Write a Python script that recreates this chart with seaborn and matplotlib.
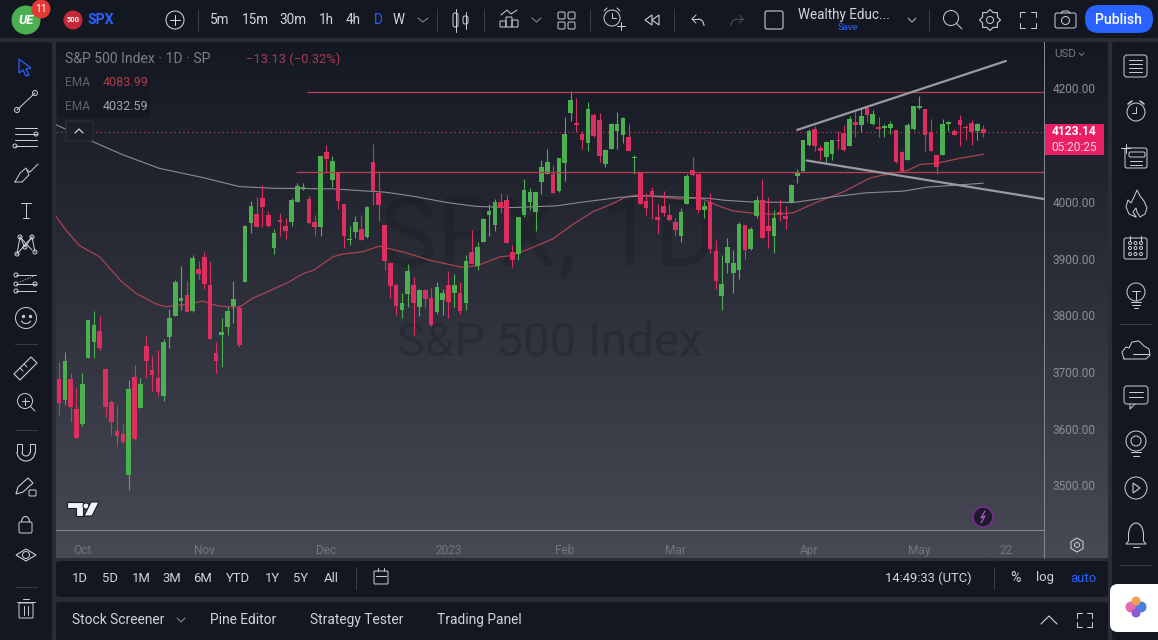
# S&P 500 daily candles, drawn as a charting app screenshot
import numpy as np
import pandas as pd
import seaborn as sns
import matplotlib.pyplot as plt
from matplotlib.patches import Circle, FancyBboxPatch, Polygon, Rectangle, Arc
from matplotlib.lines import Line2D

opens = [3688, 3651, 3688, 3634, 3608, 3725, 3752, 3772, 3706, 3647,
         3596, 3590, 3518, 3691, 3637, 3746, 3703, 3689, 3657, 3761,
         3799, 3825, 3836, 3808, 3882, 3903, 3853, 3734, 3765, 3779,
         3816, 3812, 3859, 3962, 3979, 4007, 3977, 3919, 3966, 3957,
         3965, 4000, 4022, 4005, 3965, 3956, 4088, 4039, 4052, 3996,
         3932, 3947, 3953, 3938, 4070, 4016, 3959, 3892, 3853, 3809,
         3838, 3853, 3815, 3845, 3830, 3805, 3827, 3853, 3839, 3839,
         3822, 3912, 3887, 3930, 3977, 3959, 4000, 4003, 3911, 3908,
         3977, 4000, 3982, 4035, 4050, 4050, 4019, 4069, 4156, 4137,
         4120, 4104, 4153, 4144, 4067, 4094, 4125, 4118, 4114, 4077,
         4052, 4002, 4019, 3973, 3993, 3977, 3964, 3939, 3996, 4056,
         4049, 3986, 4000, 3913, 3834, 3892, 3875, 3879, 3959, 3917,
         3975, 4003, 3958, 3939, 3983, 3975, 3999, 4046, 4054, 4100,
         4128, 4095, 4079, 4084, 4110, 4121, 4099, 4141, 4136, 4166,
         4137, 4130, 4131, 4131, 4127, 4088, 4074, 4128, 4166, 4163,
         4123, 4082, 4083, 4138, 4125, 4144, 4132, 4139, 4125, 4128]
closes = [3646, 3719, 3639, 3584, 3679, 3792, 3783, 3742, 3639, 3612,
          3587, 3577, 3670, 3582, 3679, 3719, 3694, 3665, 3753, 3796,
          3859, 3830, 3806, 3901, 3872, 3855, 3759, 3719, 3770, 3808,
          3829, 3747, 3958, 3993, 3956, 3991, 3957, 3946, 3965, 3949,
          4003, 4028, 4026, 3963, 3956, 4081, 4076, 4072, 4001, 3940,
          3935, 3965, 3933, 3991, 4019, 3995, 3895, 3852, 3816, 3821,
          3878, 3822, 3845, 3829, 3782, 3850, 3839, 3824, 3853, 3808,
          3896, 3890, 3921, 3970, 3984, 4000, 3989, 3928, 3898, 3973,
          4021, 4017, 4017, 4061, 4070, 4015, 4077, 4120, 4180, 4136,
          4109, 4164, 4117, 4081, 4092, 4137, 4137, 4148, 4090, 4079,
          3996, 3990, 4011, 3968, 3980, 3968, 3950, 3982, 4046, 4047,
          3986, 3993, 3917, 3861, 3856, 3920, 3892, 3961, 3915, 3952,
          4003, 3937, 3948, 3972, 3976, 3970, 4029, 4052, 4109, 4125,
          4099, 4090, 4106, 4109, 4107, 4092, 4146, 4136, 4151, 4154,
          4155, 4129, 4134, 4138, 4070, 4055, 4136, 4169, 4169, 4118,
          4090, 4061, 4137, 4140, 4118, 4136, 4130, 4124, 4137, 4122]
highs = [3718, 3736, 3698, 3671, 3698, 3792, 3808, 3799, 3706, 3651,
         3642, 3608, 3685, 3712, 3689, 3763, 3728, 3738, 3758, 3811,
         3863, 3887, 3861, 3906, 3895, 3912, 3896, 3752, 3796, 3814,
         3860, 3818, 3959, 4002, 4009, 4030, 3984, 3952, 3980, 3971,
         4006, 4034, 4034, 4011, 3977, 4081, 4100, 4081, 4052, 3997,
         3957, 3975, 3977, 3992, 4102, 4054, 3959, 3893, 3856, 3839,
         3890, 3868, 3846, 3846, 3848, 3859, 3846, 3878, 3872, 3859,
         3906, 3950, 3930, 3971, 3997, 4005, 4016, 4013, 3924, 3974,
         4040, 4024, 4018, 4074, 4094, 4065, 4077, 4150, 4196, 4183,
         4125, 4176, 4156, 4156, 4094, 4139, 4159, 4149, 4137, 4082,
         4052, 4015, 4027, 3997, 4019, 3997, 3971, 3990, 4050, 4080,
         4050, 4002, 4016, 3933, 3906, 3937, 3915, 3964, 3959, 3955,
         4010, 4040, 4009, 3986, 4005, 3992, 4031, 4058, 4110, 4128,
         4134, 4101, 4108, 4110, 4125, 4136, 4151, 4162, 4165, 4169,
         4162, 4150, 4137, 4143, 4127, 4089, 4139, 4170, 4187, 4164,
         4147, 4083, 4147, 4143, 4128, 4154, 4136, 4144, 4140, 4136]
lows = [3624, 3642, 3611, 3583, 3604, 3724, 3724, 3738, 3621, 3589,
        3570, 3575, 3492, 3580, 3636, 3689, 3666, 3658, 3648, 3743,
        3798, 3809, 3805, 3806, 3864, 3846, 3758, 3698, 3709, 3765,
        3786, 3744, 3859, 3946, 3955, 3955, 3955, 3908, 3939, 3934,
        3957, 4000, 4021, 3961, 3939, 3940, 4053, 4026, 3987, 3919,
        3924, 3937, 3933, 3937, 3995, 3967, 3880, 3830, 3800, 3796,
        3815, 3765, 3798, 3813, 3781, 3803, 3800, 3796, 3815, 3803,
        3809, 3890, 3879, 3929, 3939, 3949, 3980, 3927, 3885, 3898,
        3973, 3986, 3949, 4014, 4050, 4015, 4018, 4036, 4143, 4124,
        4093, 4089, 4115, 4071, 4062, 4093, 4094, 4104, 4090, 4050,
        3996, 3977, 3969, 3943, 3975, 3967, 3940, 3930, 3996, 4046,
        3981, 3971, 3910, 3846, 3809, 3875, 3839, 3864, 3900, 3916,
        3971, 3936, 3919, 3909, 3967, 3952, 3998, 4034, 4053, 4099,
        4089, 4074, 4071, 4074, 4093, 4089, 4099, 4114, 4123, 4141,
        4136, 4114, 4114, 4119, 4069, 4052, 4074, 4127, 4163, 4090,
        4090, 4049, 4082, 4125, 4118, 4099, 4109, 4100, 4110, 4114]

ema_fast_bars = [-0.5, 1.2, 3.5, 7, 10.7, 13.2, 16.7, 18.4, 22.4, 24.7, 27.6, 31, 33.3, 36.2, 39.6,
                 41.9, 43.9, 47.1, 48.8, 52.2, 55.1, 59.8, 63.8, 69.2, 71.8, 75.8, 77.6, 80.4, 85,
                 88.5, 91.9, 94.8, 97.6, 99.4, 103.9, 106.8, 110.3, 113.7, 116, 119.5, 123.5, 126.4,
                 129.8, 135, 139.5, 143, 145.9, 148.1, 151, 155, 159]
ema_fast = [3974, 3950, 3923, 3903, 3860, 3839, 3820, 3815, 3820, 3825, 3816, 3814, 3830, 3843, 3859,
            3873, 3880, 3903, 3908, 3912, 3922, 3910, 3897, 3885, 3887, 3903, 3905, 3915, 3935,
            3961, 3983, 3995, 4009, 4012, 4008, 4005, 4007, 3992, 3984, 3980, 3978, 3981,
            3997, 4018, 4042, 4050, 4055, 4066, 4068, 4077, 4084]
ema_slow_bars = [-0.5, 5.2, 11, 17.3, 24.7, 31, 36.8, 47.1, 56.2, 60.9, 66.7, 71.8, 78.1, 85.6, 89.6,
                 96.5, 101.1, 112, 114.3, 118.9, 126.4, 133.2, 138.9, 145.3, 149.3, 155, 159]
ema_slow = [4136, 4109, 4083, 4059, 4043, 4027, 4024, 4023, 4017, 4010, 3999, 3992, 3990, 3993, 3999,
            4008, 4011, 4006, 4003, 4000, 3999, 4009, 4016, 4019, 4026, 4030, 4033]

price_ticks = [3500, 3600, 3700, 3800, 3900, 4000, 4100, 4200]
month_bars = [4, 25, 46, 67, 87, 106, 129, 148, 163]
month_labels = ['Oct', 'Nov', 'Dec', '2023', 'Feb', 'Mar', 'Apr', 'May', '22']
level_prices = [4194, 4052]
level_starts = [42.7, 40.8]
last_price = 4123.14

W, H = 1158, 640
UP, DOWN = '#4caf50', '#dd2f5f'
ICON = '#c9ccd3'
TEXT = '#d1d4dc'

sns.set_theme(style='dark')
plt.rcParams['font.family'] = ['Roboto', 'DejaVu Sans']
fig = plt.figure(figsize=(W / 100, H / 100), dpi=100, facecolor='#2a2d36')


def px_axes(zorder):
    a = fig.add_axes([0, 0, 1, 1], zorder=zorder)
    a.set_xlim(0, W)
    a.set_ylim(H, 0)
    a.axis('off')
    a.patch.set_alpha(0)
    return a


back = px_axes(0)
ui = px_axes(5)


def panel(a, x0, y0, x1, y1, color='#131722', z=1):
    a.add_patch(FancyBboxPatch((x0 + 3, y0 + 3), x1 - x0 - 6, y1 - y0 - 6, boxstyle='round,pad=3',
                               fc=color, ec='none', zorder=z))


def txt(x, y, s, color=TEXT, size=13, ha='left', weight='normal', a=None, **kw):
    (a or ui).text(x, y, s, color=color, fontsize=size * 0.72, ha=ha, va='center', weight=weight, **kw)


def line(xs, ys, color=ICON, lw=1.0, a=None, **kw):
    (a or ui).add_line(Line2D(xs, ys, color=color, lw=lw * 0.72, solid_capstyle='round', **kw))


def ring(x, y, r, color=ICON, lw=1.0, fc='none'):
    ui.add_patch(Circle((x, y), r, fc=fc, ec=color, lw=lw * 0.72))


def box(x, y, w, h, color=ICON, lw=1.0, round_=2):
    ui.add_patch(FancyBboxPatch((x + round_, y + round_), w - 2 * round_, h - 2 * round_,
                                boxstyle=f'round,pad={round_}', fc='none', ec=color, lw=lw * 0.72))


# panels and gradient chart background
panel(back, -10, -10, W + 10, 38)
panel(back, -10, 42, 52, 640)
panel(back, 1112, 42, W + 10, 640)
panel(back, 56, 561, 1108, 597)
panel(back, 56, 602, 1108, 650)
grad = np.linspace(0, 1, 256).reshape(-1, 1)
cmap = plt.matplotlib.colors.LinearSegmentedColormap.from_list('bg', ['#141823', '#474954'])
back.imshow(grad, cmap=cmap, extent=(56, 1108, 558, 42), aspect='auto', zorder=1)
back.set_xlim(0, W)
back.set_ylim(H, 0)

# watermark
txt(549, 240, 'SPX, 1D', color='#000000', size=96, ha='center', a=back, alpha=0.13, zorder=2)
txt(550, 343, 'S&P 500 Index', color='#000000', size=47.5, ha='center', a=back, alpha=0.16, zorder=2)

# price chart, one bar per trading day
df = pd.DataFrame({'open': opens, 'high': highs, 'low': lows, 'close': closes})
df['bar'] = np.arange(len(df))
df['color'] = np.where(df['close'] >= df['open'], UP, DOWN)

ax = fig.add_axes([56 / W, 1 - 530 / H, 988 / W, 488 / H], zorder=2)
ax.patch.set_alpha(0)
ax.set_xlim(-0.52, 169.45)
ax.set_ylim(3421.3, 4282)

sns.lineplot(x=ema_fast_bars, y=ema_fast, ax=ax, color='#a8444f', lw=0.9, estimator=None, sort=False, zorder=2)
sns.lineplot(x=ema_slow_bars, y=ema_slow, ax=ax, color='#8a8c93', lw=0.8, estimator=None, sort=False, zorder=2)
ax.vlines(df['bar'], df['low'], df['high'], colors=df['color'], lw=0.8, zorder=3)
body_low = df[['open', 'close']].min(axis=1)
body_height = (df['close'] - df['open']).abs().clip(lower=2.5)
ax.bar(df['bar'], body_height, bottom=body_low, width=0.8, color=df['color'], lw=0, zorder=4)

ax.hlines(level_prices, level_starts, 169.45, colors='#b8404f', lw=0.9, zorder=5)
ax.plot([127, 162.9], [4127, 4248.5], color='#9a9aa2', lw=1.6, zorder=5)
ax.plot([128.6, 169.5], [4073, 4005], color='#9a9aa2', lw=1.6, zorder=5)
ax.plot([-0.52, 169.45], [last_price] * 2, color='#c03a60', lw=0.9, ls=(0, (1, 2.5)), zorder=1)

ax.yaxis.tick_right()
ax.set_yticks(price_ticks, [f'{p:.2f}' for p in price_ticks])
ax.set_xticks(month_bars, month_labels)
ax.tick_params(axis='y', length=0, pad=6, labelsize=8.6, labelcolor='#8b8e98')
ax.tick_params(axis='x', length=0, pad=10, labelsize=8.6, labelcolor='#72747e')
ax.set_xlabel('')
ax.set_ylabel('')
ax.grid(False)
for name, spine in ax.spines.items():
    spine.set_visible(name in ('right', 'bottom'))
    spine.set_color('#8a8c94')
    spine.set_linewidth(0.7)
line([1044, 1044], [530, 558], color='#8a8c94', lw=0.9)

# chart legend and labels
ui.add_patch(Rectangle((58, 70), 92, 48, fc='#151923', ec='none', alpha=0.85))
txt(65, 59, 'S&P 500 Index · 1D · SP', color='#7b7e89', size=14)
txt(246, 59, '−13.13 (−0.32%)', color='#a83a52', size=13)
txt(65, 83, 'EMA', color='#5f626c', size=12)
txt(103, 83, '4083.99', color='#b23b4c', size=12.5)
txt(65, 106, 'EMA', color='#5f626c', size=12)
txt(103, 106, '4032.59', color='#a2a4ab', size=12.5)
ui.add_patch(FancyBboxPatch((67, 122), 25, 18, boxstyle='round,pad=1', fc='#1b1f2a', ec='#2f333e', lw=0.7))
line([75, 79, 83], [133, 129, 133], color='#d5d7dc', lw=1.2)
txt(1054, 54, 'USD', color='#777a85', size=11.5)
line([1079, 1081.5, 1084], [53, 55.5, 53], color='#777a85')
ui.add_patch(Rectangle((1045, 124), 59, 31, fc='#e91e63', ec='none'))
txt(1074, 131.5, '4123.14', color='#ffffff', size=12, ha='center', weight='bold')
txt(1074, 147.5, '05:20:25', color='#f7d5e0', size=12, ha='center')

# tradingview mark
ui.add_patch(Polygon([(67, 502), (83, 502), (83, 516), (76, 516), (76, 508), (67, 508)],
                     fc='#f0f3fa', ec='#1a1d26', lw=0.8))
ring(86, 506, 3, color='#1a1d26', fc='#f0f3fa')
ui.add_patch(Polygon([(91, 502), (99, 502), (92, 516), (84, 516)], fc='#f0f3fa', ec='#1a1d26', lw=0.8))
ring(983, 517, 10, color='#7b2d94', lw=1.6, fc='#1f1a2c')
line([985, 981, 985, 981], [511, 518, 516, 523], color='#b05ad0', lw=1.2)
ui.add_patch(Polygon([(1077, 538), (1083, 541.5), (1083, 548.5), (1077, 552), (1071, 548.5), (1071, 541.5)],
                     fc='none', ec='#c5c7cd', lw=0.8))
ring(1077, 545, 2.5, color='#c5c7cd')

# top bar
ring(26, 20, 14, color='#4caf50', fc='#4caf50')
txt(26, 21, 'UE', color='#ffffff', size=13, ha='center', weight='bold', style='italic')
ring(41, 9, 9, color='#e53935', fc='#e53935')
txt(41, 9, '11', color='#ffffff', size=10.5, ha='center')
ring(73, 20, 9, color='#c62838', fc='#c62838')
txt(73, 20.5, '500', color='#ffffff', size=7.5, ha='center', weight='bold')
txt(87, 19.5, 'SPX', color='#2962ff', size=14, weight='bold')
ring(175, 20, 9, color='#d8dade')
line([170, 180], [20, 20], color='#d8dade')
line([175, 175], [15, 25], color='#d8dade')
for x, s in zip([220, 255, 293, 326, 353, 378, 399], ['5m', '15m', '30m', '1h', '4h', 'D', 'W']):
    txt(x, 20, s, color='#2962ff' if s == 'D' else TEXT, size=13.5, ha='center')
for x in [198, 437, 484, 590, 674, 929]:
    line([x, x], [9, 31], color='#3a3e49')
line([418, 423, 428], [18, 22, 18], color='#8d9099')
# candles icon
box(453, 13, 5, 14)
line([455.5, 455.5], [9, 32])
box(463, 16, 5, 8)
line([465.5, 465.5], [12, 29])
# indicators icon
for bx, bh in [(500, 6), (506, 10), (512, 7)]:
    box(bx, 27 - bh, 6, bh, round_=0.5)
line([501, 507, 511, 517], [15, 10, 14, 10])
line([532, 536.5, 541], [18, 22, 18], color='#8d9099')
for bx, by in [(558, 12), (568, 12), (558, 22), (568, 22)]:
    box(bx, by, 7, 7, round_=1.5)
ring(612, 18, 8)
line([612, 612, 616], [13, 18, 18])
line([604, 607], [11, 8])
line([617, 620], [8, 11])
line([617, 625], [26, 26])
line([621, 621], [22, 30])
ui.add_patch(Polygon([(652, 15), (645, 20), (652, 25)], fc='none', ec=ICON, lw=0.8))
ui.add_patch(Polygon([(659, 15), (652, 20), (659, 25)], fc='none', ec=ICON, lw=0.8))
# undo, redo
line([696, 692, 696], [15, 19, 23])
line([692, 698], [19, 19])
ui.add_patch(Arc((698, 26), 12, 14, theta1=270, theta2=360, ec=ICON, lw=0.8))
line([739, 743, 739], [15, 19, 23], color='#4a4d57')
line([743, 737], [19, 19], color='#4a4d57')
ui.add_patch(Arc((737, 26), 12, 14, theta1=180, theta2=270, ec='#4a4d57', lw=0.8))
box(765, 11, 18, 18, lw=1.1, round_=2)
txt(798, 15, 'Wealthy Educ...', color=TEXT, size=13.5)
txt(848, 27, 'Save', color='#2962ff', size=9.5, ha='center')
line([908, 912, 916], [18, 22, 18], color='#b8bac0')
ring(951, 18, 7.5)
line([956.5, 962], [23.5, 29])
# settings gear
angles = np.linspace(0, 2 * np.pi, 16, endpoint=False)
radii = np.where(np.arange(16) % 2 == 0, 10.5, 8)
ui.add_patch(Polygon(np.column_stack([990 + radii * np.cos(angles), 20 + radii * np.sin(angles)]),
                     fc='none', ec=ICON, lw=0.8))
ring(990, 20, 3.5)
for x0, x1, y0, y1 in [(1020, 1020, 12, 17), (1020, 1025, 12, 12), (1036, 1036, 12, 17), (1031, 1036, 12, 12),
                       (1020, 1020, 23, 28), (1020, 1025, 28, 28), (1036, 1036, 23, 28), (1031, 1036, 28, 28)]:
    line([x0, x1], [y0, y1])
box(1055, 13, 21, 15, round_=2)
ring(1065.5, 20.5, 4)
line([1061, 1063, 1068, 1070], [13, 11, 11, 13])
ui.add_patch(FancyBboxPatch((1085, 5), 68, 28, boxstyle='round,pad=0,rounding_size=14', fc='#2962ff', ec='none'))
txt(1118.5, 19.5, 'Publish', color='#ffffff', size=14, ha='center', weight='medium')

# left toolbar
ui.add_patch(Polygon([(19, 59), (31, 68), (26, 69), (29, 75), (26, 76), (23, 70), (19, 73)],
                     fc='none', ec='#2962ff', lw=0.9))
line([17, 35], [110, 93])
ring(17, 110, 2.5, fc='#131722')
ring(35, 93, 2.5, fc='#131722')
for y, x0, x1 in [(128, 15, 37), (134, 15, 37), (140, 15, 37), (146, 15, 37)]:
    line([x0, x1], [y, y])
ring(36, 134, 2, fc='#131722')
ring(15, 146, 2, fc='#131722')
line([15, 20, 26, 29, 22, 15], [182, 173, 168, 175, 182, 182])
line([27, 30, 38], [170, 172, 164])
line([21, 31], [203, 203])
line([26, 26], [203, 218])
line([23, 29], [218, 218])
pts = [(17, 254), (20, 237), (25, 247), (32, 237), (35, 252)]
line([p[0] for p in pts], [p[1] for p in pts])
line([20, 32], [237, 250])
line([17, 32], [254, 237])
for p in pts:
    ring(p[0], p[1], 2, fc='#131722')
for y in [275, 284, 291]:
    line([16, 36], [y, y])
    ring(16, y, 2, fc='#131722')
ring(35, 284, 2, fc='#131722')
line([20, 34], [282, 276], ls=':')
ring(26, 318, 10.5)
ui.add_patch(Arc((26, 319), 10, 9, theta1=20, theta2=160, ec=ICON, lw=0.8))
ui.scatter([22.5, 29.5], [316, 316], s=2, color=ICON)
for y in [344, 430, 587]:
    line([15, 37], [y, y], color='#363a45')
ui.add_patch(Polygon([(14, 374), (31, 357), (37, 363), (20, 380)], fc='none', ec=ICON, lw=0.8))
line([20, 23], [368, 371])
line([24, 27], [364, 367])
ring(25, 401, 7.5)
line([30.5, 35], [406.5, 411])
line([21.5, 28.5], [401, 401])
line([25, 25], [397.5, 404.5])
# magnet
ui.add_patch(Arc((26, 452), 18, 18, theta1=0, theta2=180, ec=ICON, lw=0.8))
ui.add_patch(Arc((26, 452), 8, 8, theta1=0, theta2=180, ec=ICON, lw=0.8))
line([17, 17, 22, 22], [452, 444, 444, 452])
line([30, 30, 35, 35], [452, 444, 444, 452])
ui.add_patch(Polygon([(16, 494), (18, 487), (28, 478), (33, 483), (23, 492)], fc='none', ec=ICON, lw=0.8))
box(29, 490, 7, 6, round_=1)
box(19, 522, 13, 11, round_=1.5)
ui.add_patch(Arc((25.5, 522), 8, 11, theta1=180, theta2=360, ec=ICON, lw=0.8))
ring(26, 555, 3.5)
ui.add_patch(Polygon([(16, 555), (26, 549), (36, 555), (26, 561)], fc='none', ec=ICON, lw=0.8))
box(19, 603, 14, 15, round_=1)
line([17, 35], [602, 602])
line([23, 29], [599, 599])
line([24, 24], [606, 615])
line([28, 28], [606, 615])

# right toolbar
box(1124, 55, 23, 22, round_=3)
for y in [60, 64, 68, 72]:
    line([1129, 1142], [y, y])
ring(1136, 112, 9)
line([1136, 1136, 1132], [107, 113, 113])
line([1128, 1132], [104, 101], lw=1.6)
line([1140, 1144], [101, 104], lw=1.6)
box(1125, 148, 22, 20, round_=2)
box(1129, 152, 16, 5, round_=1.5)
line([1130, 1142], [161, 161])
line([1130, 1142], [165, 165])
line([1121, 1130], [148, 148])
line([1125.5, 1125.5], [144, 153])
line([1136, 1129, 1126, 1128, 1131, 1134, 1137, 1140, 1144, 1147, 1145, 1140, 1137, 1136, 1133, 1136],
     [217, 214, 207, 200, 203, 197, 190, 196, 201, 208, 214, 217, 212, 208, 212, 217])
box(1124, 238, 23, 21, round_=2)
line([1130, 1130], [236, 241])
line([1141, 1141], [236, 241])
for dy in [243, 248, 254]:
    for dx in [1130, 1135.5, 1141]:
        ring(dx, dy, 1.5)
ring(1136, 292, 9)
line([1131, 1141], [302, 302])
line([1132, 1140], [305, 305])
line([1134, 1138], [308, 308])
line([1136, 1136], [291, 300])
line([1132, 1140], [291, 291])
line([1119, 1151], [324, 324], color='#363a45')
line([1124, 1122, 1126, 1129, 1132, 1139, 1144, 1149, 1150, 1146, 1124],
     [359, 352, 347, 348, 342, 341, 346, 349, 355, 359, 359])
line([1133, 1149], [354, 354])
box(1124, 386, 24, 18, round_=3)
for y in [392, 397]:
    line([1129, 1143], [y, y])
line([1130, 1130, 1135], [404, 409, 404])
ring(1136, 441, 10)
ring(1136, 441, 5)
line([1131, 1141], [452, 452])
line([1133, 1139], [456, 456])
ring(1136, 488, 11)
ui.add_patch(Polygon([(1133, 483), (1140, 488), (1133, 493)], fc='none', ec=ICON, lw=0.8))
ui.add_patch(Arc((1136, 535), 15, 24, theta1=180, theta2=360, ec=ICON, lw=0.8))
line([1128.5, 1128.5, 1126, 1146, 1143.5, 1143.5], [535, 541, 544, 544, 541, 535])
line([1133, 1139], [547, 547])
line([1119, 1151], [565, 565], color='#363a45')

# bottom bars
for x, s in zip([80, 110, 141, 172, 203, 238, 272, 301, 331], ['1D', '5D', '1M', '3M', '6M', 'YTD', '1Y', '5Y', 'All']):
    txt(x, 578, s, size=13, ha='center')
line([356, 356], [567, 589], color='#3a3e49')
box(374, 571, 14, 13, round_=1)
line([378, 378], [568, 571])
line([384, 384], [568, 571])
line([376, 386], [576, 576], color=ICON)
txt(885, 578, '14:49:33 (UTC)', size=13)
line([994, 994], [567, 589], color='#3a3e49')
txt(1015, 578, '%', size=14, ha='center')
txt(1045, 578, 'log', size=13, ha='center')
txt(1083, 578, 'auto', color='#2962ff', size=13, ha='center')
for x, s in zip([72, 210, 310, 437], ['Stock Screener', 'Pine Editor', 'Strategy Tester', 'Trading Panel']):
    txt(x, 620, s, size=13.8)
line([177, 181, 185], [618, 622, 618], color='#9598a1')
line([1041, 1049, 1057], [624, 616, 624], color=TEXT, lw=1.1)
for x0, x1, y0, y1 in [(1077, 1077, 613, 618), (1077, 1082, 613, 613), (1092, 1092, 613, 618), (1087, 1092, 613, 613),
                       (1077, 1077, 622, 627), (1077, 1082, 627, 627), (1092, 1092, 622, 627), (1087, 1092, 627, 627)]:
    line([x0, x1], [y0, y1])

# floating badge, bottom right corner
ui.add_patch(FancyBboxPatch((1118, 592), 50, 32, boxstyle='round,pad=8', fc='#ffffff', ec='none'))
ring(1131, 607, 5, color='#e06bb0', fc='#e06bb0')
ring(1141, 607, 5, color='#4a7fe0', fc='#4a7fe0')
ring(1136, 601, 4, color='#f0a050', fc='#f0a050')
ring(1136, 613, 4, color='#8a5ad0', fc='#8a5ad0')

fig.savefig('out.png', dpi=100)
